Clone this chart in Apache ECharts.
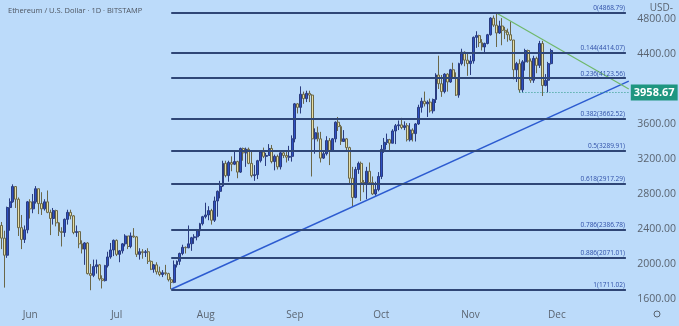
<!DOCTYPE html>
<html><head><meta charset="utf-8">
<script src="https://cdn.jsdelivr.net/npm/echarts@6/dist/echarts.min.js"></script>
<style>html,body{margin:0;padding:0;background:#bcdbfa}#c{width:679px;height:326px}</style>
</head><body><div id="c"></div>
<script>
// ---- data: [open, close, low, high] per day ----
const startDate = '2021-05-22';
const totalDays = 219; // includes empty right margin (to 2021-12-26)
const mayCandles = [
 [2440,2295,2170,2480],[2295,2100,1730,2380],[2100,2645,2070,2655],[2645,2710,2380,2750],
 [2710,2885,2700,2910],[2885,2740,2640,2890],[2740,2415,2320,2760],[2415,2280,2170,2560],
 [2280,2390,2240,2440],[2390,2710,2350,2720]];
const junCandles = [
 [2710,2630,2520,2740],[2630,2710,2580,2800],[2710,2860,2690,2890],[2860,2690,2570,2860],
 [2690,2630,2560,2820],[2630,2710,2610,2740],[2710,2590,2580,2840],[2590,2520,2330,2620],
 [2520,2610,2450,2640],[2610,2470,2430,2620],[2470,2370,2320,2480],[2370,2360,2200,2420],
 [2360,2510,2310,2520],[2510,2590,2450,2620],[2590,2550,2510,2620],[2550,2360,2340,2560],
 [2360,2370,2310,2440],[2370,2230,2180,2370],[2230,2170,2120,2270],[2170,2240,1990,2250],
 [2240,1890,1880,2250],[1890,1870,1700,2000],[1870,1970,1850,2050],[1970,1990,1890,2050],
 [1990,1830,1810,2000],[1830,1810,1720,1870],[1810,1980,1800,1990],[1980,2080,1960,2140],
 [2080,2160,2060,2240],[2160,2270,2090,2280]];
const julCandles = [
 [2270,2110,2090,2280],[2110,2150,2020,2160],[2150,2230,2120,2240],[2230,2320,2200,2340],
 [2320,2200,2170,2320],[2200,2320,2180,2360],[2320,2310,2300,2410],[2310,2110,2080,2320],
 [2110,2140,2050,2180],[2140,2130,2060,2170],[2130,2140,2080,2160],[2140,2030,2000,2180],
 [2030,1940,1930,2040],[1940,1990,1900,2000],[1990,1910,1880,2020],[1910,1880,1860,1970],
 [1880,1900,1850,1930],[1900,1890,1870,1990],[1890,1820,1800,1900],[1820,1790,1711,1850],
 [1790,1990,1780,2040],[1990,2030,1960,2040],[2030,2120,1990,2130],[2120,2190,2100,2220],
 [2190,2185,2120,2200],[2185,2230,2180,2440],[2230,2300,2150,2310],[2300,2310,2230,2340],
 [2310,2380,2270,2400],[2380,2460,2320,2470],[2460,2540,2440,2550]];
const augCandles = [
 [2540,2560,2520,2700],[2560,2610,2500,2660],[2610,2500,2450,2630],[2500,2720,2480,2770],
 [2720,2830,2540,2840],[2830,2890,2750,2950],[2890,3150,2880,3180],[3150,3010,2990,3180],
 [3010,3160,2940,3180],[3160,3140,3060,3230],[3140,3170,3130,3280],[3170,3050,2980,3180],
 [3050,3320,3040,3330],[3320,3270,3180,3330],[3270,3310,3110,3330],[3310,3150,3140,3330],
 [3150,3010,2990,3290],[3010,3020,2950,3130],[3020,3180,2970,3190],[3180,3280,3160,3290],
 [3280,3230,3210,3330],[3230,3240,3120,3270],[3240,3320,3240,3370],[3320,3170,3150,3360],
 [3170,3230,3070,3250],[3230,3110,3080,3250],[3110,3270,3080,3280],[3270,3240,3210,3290],
 [3240,3220,3160,3300],[3220,3230,3180,3350],[3230,3430,3170,3470]];
const sepCandles = [
 [3430,3830,3390,3840],[3830,3790,3720,3840],[3790,3940,3720,4030],[3940,3890,3830,3970],
 [3890,3950,3850,3980],[3950,3930,3850,3980],[3930,3430,3000,3940],[3430,3500,3260,3550],
 [3500,3430,3400,3570],[3430,3210,3160,3510],[3210,3260,3200,3290],[3260,3410,3240,3460],
 [3410,3290,3130,3440],[3290,3430,3280,3440],[3430,3620,3390,3630],[3620,3570,3520,3680],
 [3570,3400,3360,3590],[3400,3430,3400,3530],[3430,3330,3300,3440],[3330,2980,2910,3340],
 [2980,2760,2650,3110],[2760,3080,2750,3110],[3080,3150,3030,3170],[3150,2930,2720,3170],
 [2930,2925,2820,2960],[2925,3060,2740,3110],[3060,2930,2930,3160],[2930,2800,2790,3000],
 [2800,2850,2780,2940],[2850,3000,2830,3050]];
const octCandles = [
 [3000,3310,2970,3360],[3310,3390,3270,3440],[3390,3420,3360,3490],[3420,3380,3280,3430],
 [3380,3520,3380,3540],[3520,3580,3370,3600],[3580,3590,3530,3640],[3590,3560,3540,3670],
 [3560,3580,3530,3630],[3580,3420,3400,3610],[3420,3530,3400,3610],[3530,3490,3400,3550],
 [3490,3600,3400,3610],[3600,3790,3590,3820],[3790,3860,3730,3900],[3860,3830,3800,3970],
 [3830,3850,3680,3870],[3850,3750,3730,3890],[3750,3880,3720,3890],[3880,4160,3840,4180],
 [4160,4060,4000,4380],[4060,3970,3910,4160],[3970,4170,3950,4180],[4170,4080,3970,4180],
 [4080,4220,4070,4230],[4220,4130,4120,4300],[4130,3930,3920,4190],[3930,4290,3900,4300],
 [4290,4420,4270,4460],[4420,4330,4260,4430],[4330,4290,4150,4400]];
const novCandles = [
 [4290,4320,4160,4380],[4320,4590,4290,4600],[4590,4610,4470,4660],[4610,4530,4480,4620],
 [4530,4480,4440,4570],[4480,4520,4420,4530],[4520,4620,4510,4630],[4620,4810,4610,4820],
 [4810,4730,4710,4840],[4730,4640,4480,4868.79],[4640,4720,4630,4780],[4720,4670,4500,4810],
 [4670,4650,4570,4710],[4650,4620,4540,4690],[4620,4560,4550,4770],[4560,4220,4110,4560],
 [4220,4290,4080,4310],[4290,3990,3958.67,4340],[3990,4310,3960,4330],[4310,4440,4210,4460],
 [4440,4320,4300,4450],[4320,4100,4070,4350],[4100,4350,4070,4380],[4350,4270,4180,4370],
 [4270,4520,4240,4550],[4520,4040,3920,4550],[4040,4100,4030,4170],[4100,4290,3960,4310],
 [4290,4440,4280,4460]];

const fibRatios = ['0','0.144','0.236','0.382','0.5','0.618','0.786','0.886','1'];
const fibValues = [4868.79,4414.07,4123.56,3662.52,3289.91,2917.29,2386.78,2071.01,1711.02];
const fibStartDate = '2021-07-20';
const fibEndDate = '2021-12-25';
const yTicks = [1600,2000,2400,2800,3200,3600,4400,4800];
const monthAbbr = ['Jan','Feb','Mar','Apr','May','Jun','Jul','Aug','Sep','Oct','Nov','Dec'];
const supportValue = 3958.67;
const supportStartDate = '2021-11-18';
const upTrend = [['2021-07-20',1711.02],['2021-12-26',4090]];
const downTrend = [['2021-11-10',4868.79],['2021-12-26',4000]];

// ---- build ----
const categories = [];
{
  const d0 = new Date(startDate + 'T00:00:00Z');
  for (let i = 0; i < totalDays; i++) {
    const d = new Date(d0.getTime() + i * 86400000);
    categories.push(d.toISOString().slice(0, 10));
  }
}
const candles = [].concat(mayCandles, junCandles, julCandles, augCandles, sepCandles, octCandles, novCandles);
const idx = (d) => categories.indexOf(d);
const pt = (p) => [idx(p[0]), p[1]];
const lastIdx = categories.length - 1;

const fibStyle = {color: '#2f4676', width: 2, type: 'solid'};
const fibLabel = {show: true, position: 'insideEndTop', distance: 1, color: '#3050a8', fontSize: 6.5, fontFamily: 'Open Sans'};
const lines = fibValues.map((v, i) => [
  {coord: [idx(fibStartDate), v], lineStyle: fibStyle,
   label: Object.assign({}, fibLabel, {formatter: fibRatios[i] + '(' + v.toFixed(2) + ')'})},
  {coord: [idx(fibEndDate), v]}
]);
lines.push([{coord: [idx(supportStartDate), supportValue], lineStyle: {color: '#2a9a86', width: 1, type: [1, 2]},
  label: {show: true, position: 'end', distance: 2, formatter: supportValue.toFixed(2),
    backgroundColor: '#1f9680', color: '#ffffff', fontSize: 11, fontWeight: 'bold',
    padding: [3, 3, 2, 3], fontFamily: 'Open Sans'}},
  {coord: [lastIdx, supportValue]}]);

const trendSeries = (pts, color, width) => ({
  type: 'line', data: pts.map(pt), showSymbol: false, symbol: 'none', silent: true, z: 3,
  lineStyle: {color: color, width: width}, emphasis: {disabled: true}
});

const chart = echarts.init(document.getElementById('c'), null, {renderer: 'canvas'});
chart.setOption({
  animation: false,
  backgroundColor: '#bcdbfa',
  title: {
    text: 'Ethereum / U.S. Dollar · 1D · BITSTAMP',
    left: 3, top: 2,
    textStyle: {fontSize: 7.5, fontWeight: 'normal', color: '#4d5560', fontFamily: 'Open Sans'}
  },
  graphic: [
    {type: 'text', right: 6, top: 3, style: {text: 'USD-', fontSize: 10, fill: '#5a6470', fontFamily: 'Open Sans'}},
    {type: 'circle', shape: {cx: 657, cy: 314, r: 3}, style: {fill: 'none', stroke: '#5a6470', lineWidth: 1}}
  ],
  grid: {left: 0, right: 43, top: 0, bottom: 23},
  xAxis: {
    type: 'category',
    data: categories,
    boundaryGap: true,
    axisLine: {show: false},
    axisTick: {show: false},
    splitLine: {show: false},
    axisLabel: {
      interval: (i, val) => val.slice(8) === '01',
      formatter: (val) => monthAbbr[parseInt(val.slice(5, 7), 10) - 1],
      color: '#5a6470', fontSize: 10, margin: 7, fontFamily: 'Open Sans'
    }
  },
  yAxis: {
    type: 'value',
    position: 'right',
    min: 1554, max: 5017,
    scale: true,
    axisLine: {show: false},
    axisTick: {show: false},
    splitLine: {show: false},
    axisLabel: {
      customValues: yTicks,
      formatter: (v) => v.toFixed(2),
      color: '#5a6470', fontSize: 10.5, margin: 7, fontFamily: 'Open Sans'
    }
  },
  series: [
    {
      type: 'candlestick',
      data: candles,
      barWidth: '85%',
      itemStyle: {
        color: '#2d50c2', color0: '#e6dea6',
        borderColor: '#2a3c80', borderColor0: '#6a6748', borderWidth: 1
      },
      markLine: {
        silent: true, symbol: ['none', 'none'], animation: false,
        emphasis: {disabled: true},
        data: lines
      }
    },
    trendSeries(upTrend, '#2c5bd0', 1.5),
    trendSeries(downTrend, '#6fb86a', 1.2)
  ]
});
</script>
</body></html>
